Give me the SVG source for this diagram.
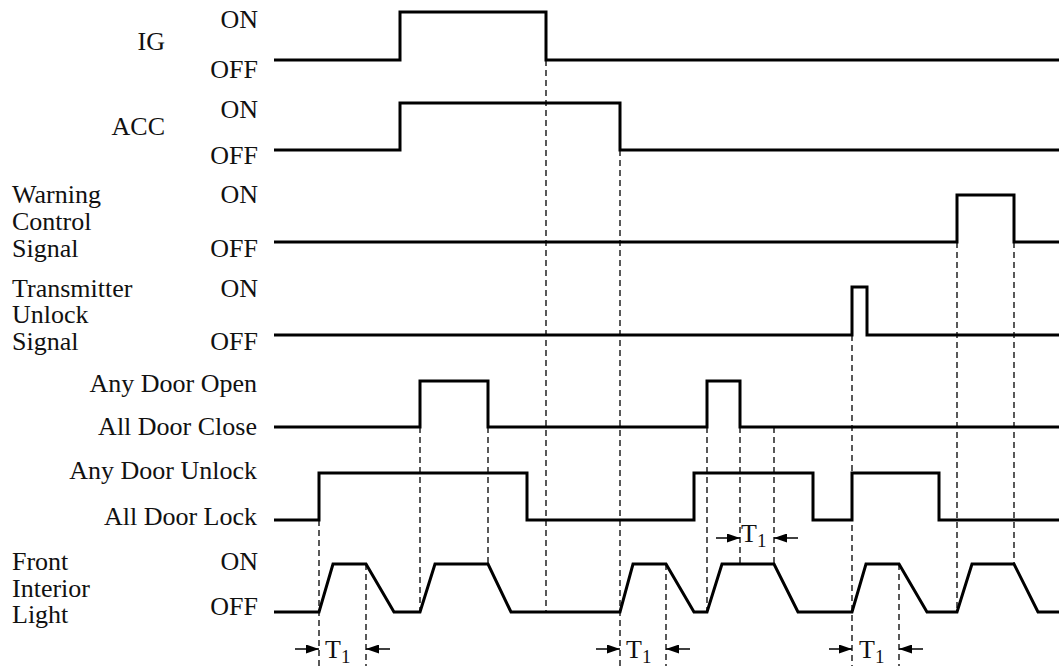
<svg xmlns="http://www.w3.org/2000/svg" width="1059" height="666" viewBox="0 0 1059 666">
<style>
text{font-family:"Liberation Serif","Times New Roman",serif;font-size:26px;fill:#111}
.r{text-anchor:end}
.sig{fill:none;stroke:#000;stroke-width:3;stroke-linejoin:miter}
.d{fill:none;stroke:#000;stroke-width:1.3;stroke-dasharray:6,4}
.a{fill:none;stroke:#000;stroke-width:1.5}
.sub{font-size:19px}
</style>
<defs>
<marker id="ah" markerUnits="userSpaceOnUse" markerWidth="13" markerHeight="9" refX="13" refY="4.5" orient="auto">
<path d="M0,0 L13,4.5 L0,9 z" fill="#000"/>
</marker>
</defs>
<rect width="1059" height="666" fill="#fff"/>
<g id="connectors">
<path class="d" d="M319,520V666 M366,564V666 M420,427V612 M488,427V564 M546,60V612 M620,150V666 M666,564V666 M707,427V612 M740,427V564 M774,427V564 M852,335V666 M899,564V666 M957,242V612 M1014,242V564"/>
<line class="a" x1="295" y1="649" x2="319" y2="649" marker-end="url(#ah)"/>
<line class="a" x1="390" y1="649" x2="366" y2="649" marker-end="url(#ah)"/>
<line class="a" x1="596" y1="649" x2="620" y2="649" marker-end="url(#ah)"/>
<line class="a" x1="690" y1="649" x2="666" y2="649" marker-end="url(#ah)"/>
<line class="a" x1="829" y1="649" x2="852" y2="649" marker-end="url(#ah)"/>
<line class="a" x1="923" y1="649" x2="899" y2="649" marker-end="url(#ah)"/>
<line class="a" x1="716" y1="538" x2="740" y2="538" marker-end="url(#ah)"/>
<line class="a" x1="798" y1="538" x2="774" y2="538" marker-end="url(#ah)"/>
<text x="325" y="658">T<tspan class="sub" dy="5">1</tspan></text>
<text x="626" y="658">T<tspan class="sub" dy="5">1</tspan></text>
<text x="859" y="658">T<tspan class="sub" dy="5">1</tspan></text>
<text x="741" y="542">T<tspan class="sub" dy="5">1</tspan></text>
</g>
<g id="ig">
<text class="r" x="258" y="28">ON</text>
<text class="r" x="165" y="50">IG</text>
<text class="r" x="258" y="78">OFF</text>
<path class="sig" d="M274,60 H400 V12 H546 V60 H1059"/>
</g>
<g id="acc">
<text class="r" x="258" y="118">ON</text>
<text class="r" x="165" y="135">ACC</text>
<text class="r" x="258" y="164">OFF</text>
<path class="sig" d="M274,150 H400 V103 H620 V150 H1059"/>
</g>
<g id="warning">
<text x="12" y="203">Warning</text>
<text x="12" y="230">Control</text>
<text x="12" y="257">Signal</text>
<text class="r" x="258" y="203">ON</text>
<text class="r" x="258" y="257">OFF</text>
<path class="sig" d="M274,242 H957 V195 H1014 V242 H1059"/>
</g>
<g id="transmitter">
<text x="12" y="297">Transmitter</text>
<text x="12" y="323">Unlock</text>
<text x="12" y="350">Signal</text>
<text class="r" x="258" y="297">ON</text>
<text class="r" x="258" y="350">OFF</text>
<path class="sig" d="M274,335 H852 V287 H867 V335 H1059"/>
</g>
<g id="door">
<text class="r" x="257" y="392">Any Door Open</text>
<text class="r" x="257" y="435">All Door Close</text>
<path class="sig" d="M274,427 H420 V381 H488 V427 H707 V381 H740 V427 H1059"/>
</g>
<g id="lock">
<text class="r" x="257" y="479">Any Door Unlock</text>
<text class="r" x="257" y="525">All Door Lock</text>
<path class="sig" d="M274,520 H319 V473 H527 V520 H694 V473 H813 V520 H852 V473 H939 V520 H1059"/>
</g>
<g id="light">
<text x="12" y="570">Front</text>
<text x="12" y="597">Interior</text>
<text x="12" y="623">Light</text>
<text class="r" x="258" y="570">ON</text>
<text class="r" x="258" y="615">OFF</text>
<path class="sig" d="M274,612 H319 L333,564 H366 L394,612 H420 L435,564 H488 L511,612 H620 L633,564 H666 L694,612 H707 L722,564 H774 L798,612 H852 L866,564 H899 L927,612 H957 L972,564 H1014 L1038,612 H1059"/>
</g>
</svg>
